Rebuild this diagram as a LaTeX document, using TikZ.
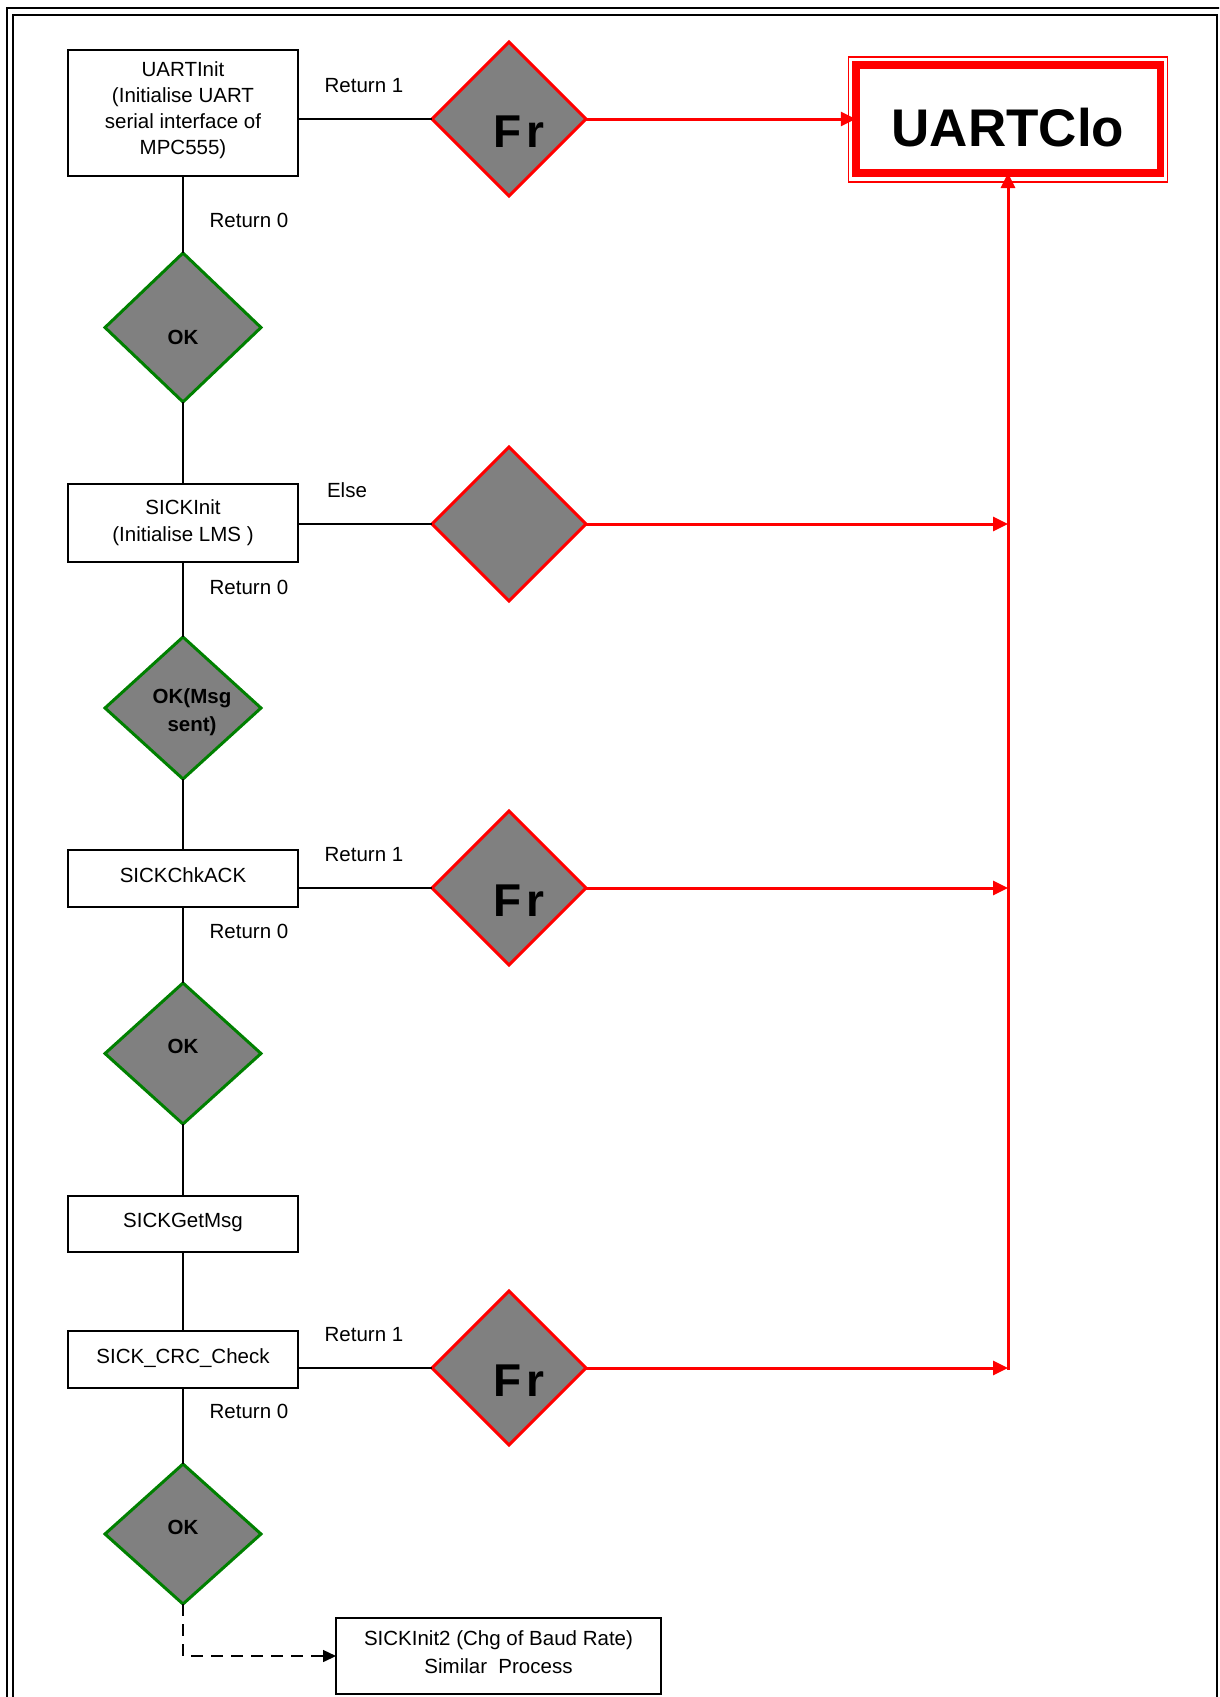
\documentclass[tikz,border=0pt]{standalone}
\usepackage{fontspec}
\setmainfont{Liberation Sans}
\usetikzlibrary{shapes.geometric,arrows.meta}
\definecolor{frred}{RGB}{255,0,0}
\definecolor{okgreen}{RGB}{0,128,0}
\definecolor{dgray}{RGB}{128,128,128}
\begin{document}
\begin{tikzpicture}[x=1pt,y=-1pt,
  every node/.style={inner sep=0pt, outer sep=0pt},
  procbox/.style={draw, line width=1.5pt, rectangle, minimum width=230pt, align=center,
    font=\fontsize{20.5}{24.5}\selectfont},
  boxtxt/.style={align=center, font=\fontsize{20.5}{26}\selectfont},
  onerow/.style={text depth=6.5pt},
  okdia/.style={diamond, draw=okgreen, line width=3pt, fill=dgray, minimum width=156pt},
  frdia/.style={diamond, draw=frred, line width=3pt, fill=dgray, minimum width=154pt, minimum height=154pt},
  lbl/.style={font=\fontsize{20.5}{24.5}\selectfont},
  oktxt/.style={font=\fontsize{20.5}{28}\selectfont\bfseries, align=center},
  frtxt/.style={font=\fontsize{46}{46}\selectfont\bfseries, xshift=10pt, yshift=-13pt},
  link/.style={line width=1.5pt},
  redlink/.style={draw=frred, line width=3pt, -{Triangle[length=15pt,width=14pt]}},
  dashlink/.style={line width=1.5pt, dash pattern=on 12pt off 8pt, -{Triangle[length=13pt,width=12pt]}}
]
\useasboundingbox (0,0) rectangle (1219,1697);
\clip (0,0) rectangle (1219,1697);

% page frame (double rule)
\draw[line width=1.5pt] (7,1710) -- (7,8) -- (1235,8);
\draw[line width=1.5pt] (13,1710) -- (13,15) -- (1217,15) -- (1217,1710);

% main column of process boxes
\node[procbox, minimum height=126pt,
  label={[boxtxt, yshift=3pt]center:UARTInit\\(Initialise UART\\serial interface of\\MPC555)}] (uart) at (183,113) {};
\node[procbox, minimum height=78pt, font=\fontsize{20.5}{27}\selectfont] (sinit) at (183,523)
  {SICKInit\\(Initialise LMS )};
\node[procbox, onerow, minimum height=57pt] (chk) at (183,878.5) {SICKChkACK};
\node[procbox, onerow, minimum height=56pt] (getm) at (183,1224) {SICKGetMsg};
\node[procbox, onerow, minimum height=57pt] (crc) at (183,1359.5) {SICK\_CRC\_Check};
\node[procbox, minimum width=325pt, minimum height=76pt,
  label={[boxtxt, font=\fontsize{20.5}{28}\selectfont, yshift=4pt]center:SICKInit2 (Chg of Baud Rate)\\Similar\ \ Process}] (sinit2) at (498.5,1656) {};

% success decisions
\node[okdia, minimum height=149pt, label={[oktxt, yshift=-10pt]center:OK}] (ok1) at (183,327.5) {};
\node[okdia, minimum height=142pt, label={[oktxt, xshift=9pt, yshift=-4pt]center:OK(Msg\\sent)}] (okm) at (183,708) {};
\node[okdia, minimum height=141pt, label={[oktxt, yshift=7pt]center:OK}] (ok2) at (183,1053.5) {};
\node[okdia, minimum height=140pt, label={[oktxt, yshift=7pt]center:OK}] (ok3) at (183,1534) {};

% failure decisions
\node[frdia, label={[frtxt]center:F\hspace{5pt}r}] (f1) at (509,119) {};
\node[frdia] (f2) at (509,524) {};
\node[frdia, label={[frtxt]center:F\hspace{5pt}r}] (f3) at (509,888) {};
\node[frdia, label={[frtxt]center:F\hspace{5pt}r}] (f5) at (509,1368) {};

% error handler
\node[rectangle, draw=frred, line width=7.5pt, minimum width=304.5pt, minimum height=108pt,
  label={[font=\fontsize{53}{53}\selectfont\bfseries, yshift=-9pt]center:UARTClo}] (clo) at (1008,119) {};
\draw[frred, line width=1.2pt] ([xshift=-7.5pt,yshift=8pt]clo.north west) rectangle ([xshift=7.5pt,yshift=-9pt]clo.south east);

% collector rail joints
\coordinate (j2) at (1008,524);
\coordinate (j3) at (1008,888);
\coordinate (j5) at (1008,1368);

% main flow
\draw[link] (uart) -- (ok1);
\draw[link] (ok1) -- (sinit);
\draw[link] (sinit) -- (okm);
\draw[link] (okm) -- (chk);
\draw[link] (chk) -- (ok2);
\draw[link] (ok2) -- (getm);
\draw[link] (getm) -- (crc);
\draw[link] (crc) -- (ok3);
\draw[dashlink] (ok3.south) |- (sinit2.west);

% branches to the failure decisions
\draw[link] (f1.west -| uart.east) -- (f1.west);
\draw[link] (f2.west -| sinit.east) -- (f2.west);
\draw[link] (f3.west -| chk.east) -- (f3.west);
\draw[link] (f5.west -| crc.east) -- (f5.west);

% failure paths
\draw[redlink] (f1.east) -- (clo.west);
\draw[redlink] (f2.east) -- (j2);
\draw[redlink] (f3.east) -- (j3);
\draw[redlink] (f5.east) -- (j5);
\draw[redlink] ([yshift=-1.5pt]j5) -- (clo.south);

% branch labels
\node[lbl] (r1a) at (364,86) {Return 1};
\node[lbl] (r0a) at (249,220) {Return 0};
\node[lbl] (els) at (347,490) {Else};
\node[lbl] (r0b) at (249,587) {Return 0};
\node[lbl] (r1b) at (364,855) {Return 1};
\node[lbl] (r0c) at (249,931) {Return 0};
\node[lbl] (r1c) at (364,1335) {Return 1};
\node[lbl] (r0d) at (249,1411) {Return 0};
\end{tikzpicture}
\end{document}
